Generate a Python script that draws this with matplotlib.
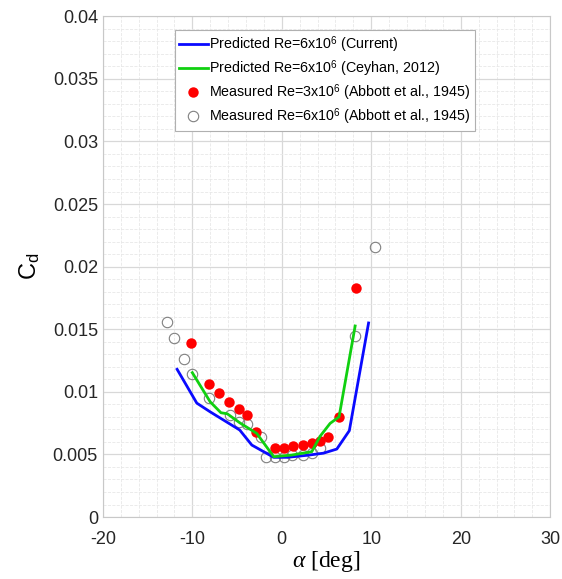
import numpy as np
import matplotlib
matplotlib.use("Agg")
import matplotlib.pyplot as plt
from matplotlib.ticker import MultipleLocator

plt.rcParams['font.family'] = ['Liberation Sans', 'DejaVu Sans']
plt.rcParams['axes.unicode_minus'] = False
plt.rcParams['mathtext.fontset'] = 'custom'
plt.rcParams['mathtext.rm'] = 'Liberation Sans'
plt.rcParams['mathtext.it'] = 'Liberation Serif:italic'

# Predicted Re=6e6 (Current)
alpha_cur = [-11.7, -9.5, -8.0, -4.7, -3.35, -0.9, 0.6, 2.8, 4.65, 6.15, 7.55, 9.7]
cd_cur = [0.0118, 0.0091, 0.0084, 0.00695, 0.00575, 0.00477, 0.00477, 0.00493, 0.0051, 0.00543, 0.0069, 0.0155]

# Predicted Re=6e6 (Ceyhan, 2012)
alpha_cey = [-10.0, -8.0, -6.8, -6.1, -4.7, -2.8, -0.9, 1.1, 3.35, 4.3, 5.4, 6.4, 8.2]
cd_cey = [0.01153, 0.0092, 0.00833, 0.00825, 0.00753, 0.00668, 0.00482, 0.00495, 0.00522, 0.00647, 0.00748, 0.008, 0.01526]

# Measured Re=3e6 (Abbott et al., 1945)
alpha_m3 = [-10.1, -8.1, -7.0, -5.85, -4.8, -3.9, -2.9, -0.8, 0.25, 1.2, 2.4, 3.35, 4.3, 5.2, 6.4, 8.25]
cd_m3 = [0.0139, 0.0106, 0.0099, 0.0092, 0.0086, 0.00815, 0.0068, 0.00554, 0.00551, 0.0057, 0.00573, 0.0059, 0.0061, 0.00636, 0.008, 0.01827]

# Measured Re=6e6 (Abbott et al., 1945)
alpha_m6 = [-12.85, -12.0, -10.95, -10.05, -8.1, -5.8, -4.8, -3.85, -2.35, -1.8, -0.75, 0.2, 1.1, 2.4, 3.35, 4.3, 8.2, 10.4]
cd_m6 = [0.0156, 0.01427, 0.0126, 0.0114, 0.0095, 0.00815, 0.0076, 0.0074, 0.0064, 0.0048, 0.0048, 0.00477, 0.00495, 0.00495, 0.0051, 0.0055, 0.01448, 0.02154]

yticklabels = ['0', '0.005', '0.01', '0.015', '0.02', '0.025', '0.03', '0.035', '0.04']

fig = plt.figure(figsize=(5.62, 5.79), dpi=100)
ax = fig.add_axes([0.183, 0.107, 0.796, 0.865])

ax.plot(alpha_cur, cd_cur, color='#0a0aff', lw=2.0, label=r'Predicted Re=6x10$^{6}$ (Current)', zorder=3)
ax.plot(alpha_cey, cd_cey, color='#10d010', lw=2.0, label=r'Predicted Re=6x10$^{6}$ (Ceyhan, 2012)', zorder=4)
ax.plot(alpha_m3, cd_m3, 'o', color='red', ms=7.5, mec='none', label=r'Measured Re=3x10$^{6}$ (Abbott et al., 1945)', zorder=3)
ax.plot(alpha_m6, cd_m6, 'o', mfc='none', mec='#808080', ms=7.5, mew=0.8, label=r'Measured Re=6x10$^{6}$ (Abbott et al., 1945)', zorder=2)

ax.set_xlim(-20, 30)
ax.set_ylim(0, 0.04)
ax.xaxis.set_major_locator(MultipleLocator(10))
ax.xaxis.set_minor_locator(MultipleLocator(2))
ax.set_yticks(np.arange(0, 0.0401, 0.005))
ax.set_yticklabels(yticklabels)
ax.yaxis.set_minor_locator(MultipleLocator(0.001))

ax.grid(which='major', color='#d8d8d8', lw=0.9)
ax.grid(which='minor', color='#e8e8e8', lw=0.6, ls='--')
ax.set_axisbelow(True)
for s in ax.spines.values():
    s.set_color('#c8c8c8')
ax.tick_params(which='both', direction='in', length=0, colors='#262626', labelsize=13)
ax.tick_params(axis='x', pad=10)

ax.set_xlabel(r'$\alpha$ [deg]', fontsize=17, family=['Liberation Serif', 'DejaVu Serif'], labelpad=1)
ax.set_ylabel(r'C$_{\mathrm{d}}$', fontsize=17, labelpad=8)

leg = ax.legend(loc='upper left', bbox_to_anchor=(0.161, 0.972), fontsize=10.3,
                handlelength=2.0, handletextpad=0.1, borderpad=0.3, labelspacing=0.2,
                fancybox=False, framealpha=1.0, edgecolor='#b0b0b0', borderaxespad=0)
leg.get_frame().set_linewidth(0.8)

fig.savefig('out.png', dpi=100)
